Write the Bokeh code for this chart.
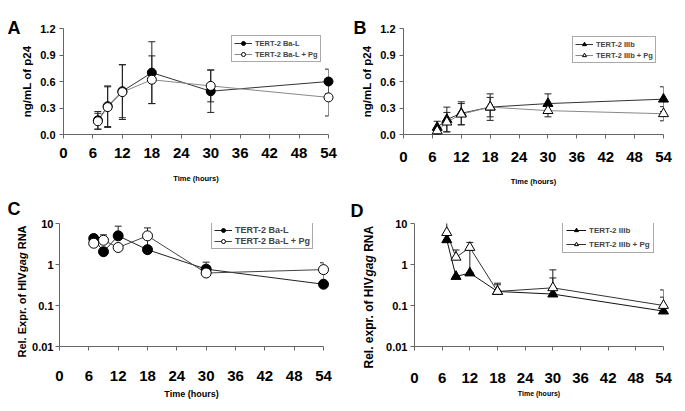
import math
from bokeh.plotting import figure
from bokeh.layouts import column, row
from bokeh.models import (ColumnDataSource, Whisker, TeeHead, Legend, LegendItem,
                          FixedTicker, NumeralTickFormatter, CustomJSTickFormatter, Range1d)
from bokeh.core.properties import value
from bokeh.embed import file_html
from bokeh.resources import INLINE

FONT = "Liberation Sans"

# ---------------- data ----------------
hours = [7, 9, 12, 18, 30, 54]
x_ticks = [0, 6, 12, 18, 24, 30, 36, 42, 48, 54]
lin_ticks = [0.0, 0.3, 0.6, 0.9, 1.2]
log_ticks = [0.01, 0.1, 1, 10]

# Panel A: p24 (ng/mL), TERT-2 Ba-L
a_bal = [0.16, 0.32, 0.49, 0.70, 0.49, 0.60]
a_bal_sd = [0.10, 0.23, 0.30, 0.35, 0.24, 0.14]
a_pg = [0.15, 0.31, 0.48, 0.62, 0.55, 0.42]
a_pg_sd = [0.09, 0.23, 0.31, 0.27, 0.18, 0.21]

# Panel B: p24 (ng/mL), TERT-2 IIIb
b_iiib = [0.08, 0.17, 0.24, 0.31, 0.35, 0.40]
b_iiib_sd = [0.07, 0.14, 0.13, 0.15, 0.11, 0.14]
b_pg = [0.04, 0.14, 0.23, 0.31, 0.27, 0.235]
b_pg_sd = [0.04, 0.11, 0.12, 0.11, 0.07, 0.08]

# Panel C: relative HIV gag RNA, TERT-2 Ba-L (error bar ends)
c_bal = [4.3, 2.05, 5.0, 2.3, 0.77, 0.33]
c_bal_up = [5.3, 2.05, 8.6, 2.3, 1.14, 0.33]
c_bal_lo = [4.3, 2.05, 5.0, 2.3, 0.77, 0.33]
c_pg = [3.3, 3.9, 2.6, 5.0, 0.62, 0.75]
c_pg_up = [3.3, 5.3, 2.6, 7.8, 0.62, 1.1]
c_pg_lo = [3.3, 3.9, 2.6, 2.4, 0.62, 0.34]

# Panel D: relative HIV gag RNA, TERT-2 IIIb (error bar ends)
d_iiib = [4.0, 0.51, 0.62, 0.22, 0.19, 0.073]
d_iiib_up = [4.0, 0.51, 0.62, 0.32, 0.47, 0.16]
d_iiib_lo = [4.0, 0.51, 0.62, 0.22, 0.19, 0.073]
d_pg = [6.0, 1.5, 2.6, 0.22, 0.27, 0.10]
d_pg_up = [11.6, 2.26, 3.46, 0.35, 0.74, 0.24]
d_pg_lo = [6.0, 1.5, 0.64, 0.22, 0.27, 0.10]

# Arial/Liberation Sans Bold advance widths (per 1000 em) for label layout
W = {'R': 722, 'e': 556, 'l': 278, '.': 278, ' ': 278, 'E': 667, 'x': 556, 'p': 611,
     'r': 389, 'o': 611, 'f': 333, 'H': 722, 'I': 278, 'V': 667, 'g': 611, 'a': 556,
     'N': 722, 'A': 722}


def tw(s, size):
    return sum(W[c] for c in s) * size / 1000.0


def base_fig(w, h, left, right, top, bottom, log=False):
    p = figure(width=w, height=h, min_border_left=left, min_border_right=right,
               min_border_top=top, min_border_bottom=bottom,
               x_range=Range1d(0, 54),
               y_range=Range1d(0.01, 10) if log else Range1d(0, 1.2),
               y_axis_type="log" if log else "linear",
               output_backend="svg", toolbar_location=None)
    p.grid.visible = False
    p.outline_line_color = None
    p.background_fill_color = "white"
    p.border_fill_color = "white"
    for ax in (p.xaxis[0], p.yaxis[0]):
        ax.axis_line_color = "#666666"
        ax.major_tick_line_color = "#666666"
        ax.minor_tick_line_color = None
        ax.major_tick_in = 0
        ax.major_tick_out = 4
        ax.major_label_text_font = FONT
        ax.major_label_text_font_style = "bold"
        ax.major_label_text_color = "black"
        ax.axis_label_text_font = FONT
        ax.axis_label_text_font_style = "bold"
        ax.axis_label_text_color = "black"
    p.xaxis.ticker = FixedTicker(ticks=x_ticks)
    p.xaxis.major_label_text_font_size = "15px"
    p.xaxis.axis_label = "Time (hours)"
    p.yaxis.major_label_text_font_size = "11px"
    if log:
        p.yaxis.ticker = FixedTicker(ticks=log_ticks)
        p.yaxis.formatter = CustomJSTickFormatter(code="return String(tick)")
    else:
        p.yaxis.ticker = FixedTicker(ticks=lin_ticks)
        p.yaxis.formatter = NumeralTickFormatter(format="0.0")
    return p


def add_series(p, y, up, lo, marker, filled, line_color, size):
    src = ColumnDataSource(dict(x=hours, y=y, up=up, lo=lo))
    ln = p.line("x", "y", source=src, line_color=line_color, line_width=1)
    wk = Whisker(base="x", upper="up", lower="lo", source=src, line_color="#222222",
                 line_width=1,
                 upper_head=TeeHead(size=7, line_color="#222222", line_width=1),
                 lower_head=TeeHead(size=7, line_color="#222222", line_width=1))
    wk.level = "annotation"
    p.add_layout(wk)
    sc = p.scatter("x", "y", source=src, marker=marker, size=size,
                   fill_color="black" if filled else "white",
                   line_color="black", line_width=1)
    sc.level = "overlay"
    return ln, sc


def add_legend(p, items, loc, font_size, padding, spacing, glyph_w):
    leg = Legend(items=[LegendItem(label=t, renderers=list(r)) for t, r in items],
                 location=loc, orientation="vertical",
                 border_line_color="#555555", border_line_width=1,
                 background_fill_color="white", background_fill_alpha=1.0,
                 label_text_font=FONT, label_text_font_style="bold",
                 label_text_font_size=font_size, glyph_width=glyph_w, glyph_height=10,
                 label_height=10, label_standoff=3, padding=padding,
                 spacing=spacing, margin=0)
    p.add_layout(leg)


def add_text(p, x, y, txt, dx, dy, size, style="bold", angle=0.0,
             align="left", baseline="alphabetic"):
    # free text anchored at a frame corner, shifted in pixels; overlay level = not clipped
    r = p.text(x=[x], y=[y], text=[txt], x_offset=dx, y_offset=dy, angle=angle,
               text_font=value(FONT), text_font_style=style,
               text_font_size=value(f"{size}px"), text_align=align,
               text_baseline=baseline, text_color="black")
    r.level = "overlay"
    return r


def add_rot_label(p, parts, y_bottom, dx, dy0, size):
    # dy0: pixels below the frame bottom where the rotated text starts
    dy = dy0
    for txt, style in parts:
        lead = len(txt) - len(txt.lstrip(" "))
        dy_piece = dy - tw(" " * lead, size)
        add_text(p, 0, y_bottom, txt.strip(), dx, dy_piece, size, style=style,
                 angle=math.pi / 2, align="left", baseline="middle")
        dy -= tw(txt, size)


# ---------------- Panel A ----------------
pA = base_fig(343, 190, 63, 15, 28, 55)
pA.yaxis.axis_label = "ng/mL of p24"
pA.yaxis.axis_label_text_font_size = "11.5px"
pA.yaxis.axis_label_standoff = 4
pA.yaxis.major_label_standoff = 4
pA.xaxis.major_label_standoff = 9
pA.xaxis.axis_label_standoff = 13
pA.xaxis.axis_label_text_font_size = "7.5px"
a1 = add_series(pA, a_bal, [v + e for v, e in zip(a_bal, a_bal_sd)],
                [v - e for v, e in zip(a_bal, a_bal_sd)], "circle", True, "#333333", 9)
a2 = add_series(pA, a_pg, [v + e for v, e in zip(a_pg, a_pg_sd)],
                [v - e for v, e in zip(a_pg, a_pg_sd)], "circle", False, "#888888", 9)
add_legend(pA, [("TERT-2 Ba-L", a1), ("TERT-2 Ba-L + Pg", a2)], (168, 72), "7.5px", 2, 1, 18)
add_text(pA, 0, 1.2, "A", -56, -1, 18)

# ---------------- Panel B ----------------
pB = base_fig(342, 190, 60, 22, 28, 56)
pB.yaxis.axis_label = "ng/mL of p24"
pB.yaxis.axis_label_text_font_size = "11.5px"
pB.yaxis.axis_label_standoff = 4
pB.yaxis.major_label_standoff = 4
pB.xaxis.major_label_standoff = 13
pB.xaxis.axis_label_standoff = 12
pB.xaxis.axis_label_text_font_size = "7.5px"
b1 = add_series(pB, b_iiib, [v + e for v, e in zip(b_iiib, b_iiib_sd)],
                [v - e for v, e in zip(b_iiib, b_iiib_sd)], "triangle", True, "#333333", 10)
b2 = add_series(pB, b_pg, [v + e for v, e in zip(b_pg, b_pg_sd)],
                [v - e for v, e in zip(b_pg, b_pg_sd)], "triangle", False, "#888888", 10)
add_legend(pB, [("TERT-2 IIIb", b1), ("TERT-2 IIIb + Pg", b2)], (169, 71), "7.5px", 2, 1, 18)
add_text(pB, 0, 1.2, "B", -50, -1, 18)

# ---------------- Panel C ----------------
pC = base_fig(343, 220, 59, 20, 31, 64, log=True)
pC.yaxis.major_label_standoff = 2
pC.xaxis.major_label_standoff = 20
pC.xaxis.axis_label_standoff = 5
pC.xaxis.axis_label_text_font_size = "9px"
c1 = add_series(pC, c_bal, c_bal_up, c_bal_lo, "circle", True, "#222222", 10)
c2 = add_series(pC, c_pg, c_pg_up, c_pg_lo, "circle", False, "#444444", 10)
add_legend(pC, [("TERT-2 Ba-L", c1), ("TERT-2 Ba-L + Pg", c2)], (152, 97), "9px", 2, 1, 18)
add_text(pC, 0, 10, "C", -52, -15, 18)
add_rot_label(pC, [("Rel. Expr. of HIV", "bold"), ("gag", "bold italic"), (" RNA", "bold")],
              0.01, -38, 11, 11)

# ---------------- Panel D ----------------
pD = base_fig(342, 220, 71, 22, 33, 63, log=True)
pD.yaxis.major_label_standoff = 3
pD.xaxis.major_label_standoff = 22
pD.xaxis.axis_label_standoff = 4
pD.xaxis.axis_label_text_font_size = "7px"
d1 = add_series(pD, d_iiib, d_iiib_up, d_iiib_lo, "triangle", True, "#111111", 10)
d2 = add_series(pD, d_pg, d_pg_up, d_pg_lo, "triangle", False, "#333333", 10)
add_legend(pD, [("TERT-2 IIIb", d1), ("TERT-2 IIIb + Pg", d2)], (148, 93), "8px", 3, 4, 20)
add_text(pD, 0, 10, "D", -64, -13, 18)
add_rot_label(pD, [("Rel. expr. of HIV", "bold"), ("gag", "bold italic"), (" RNA", "bold")],
              0.01, -46, 22, 12)

layout = column(row(pA, pB), row(pC, pD))
open("out.html", "w").write(file_html(layout, INLINE))
